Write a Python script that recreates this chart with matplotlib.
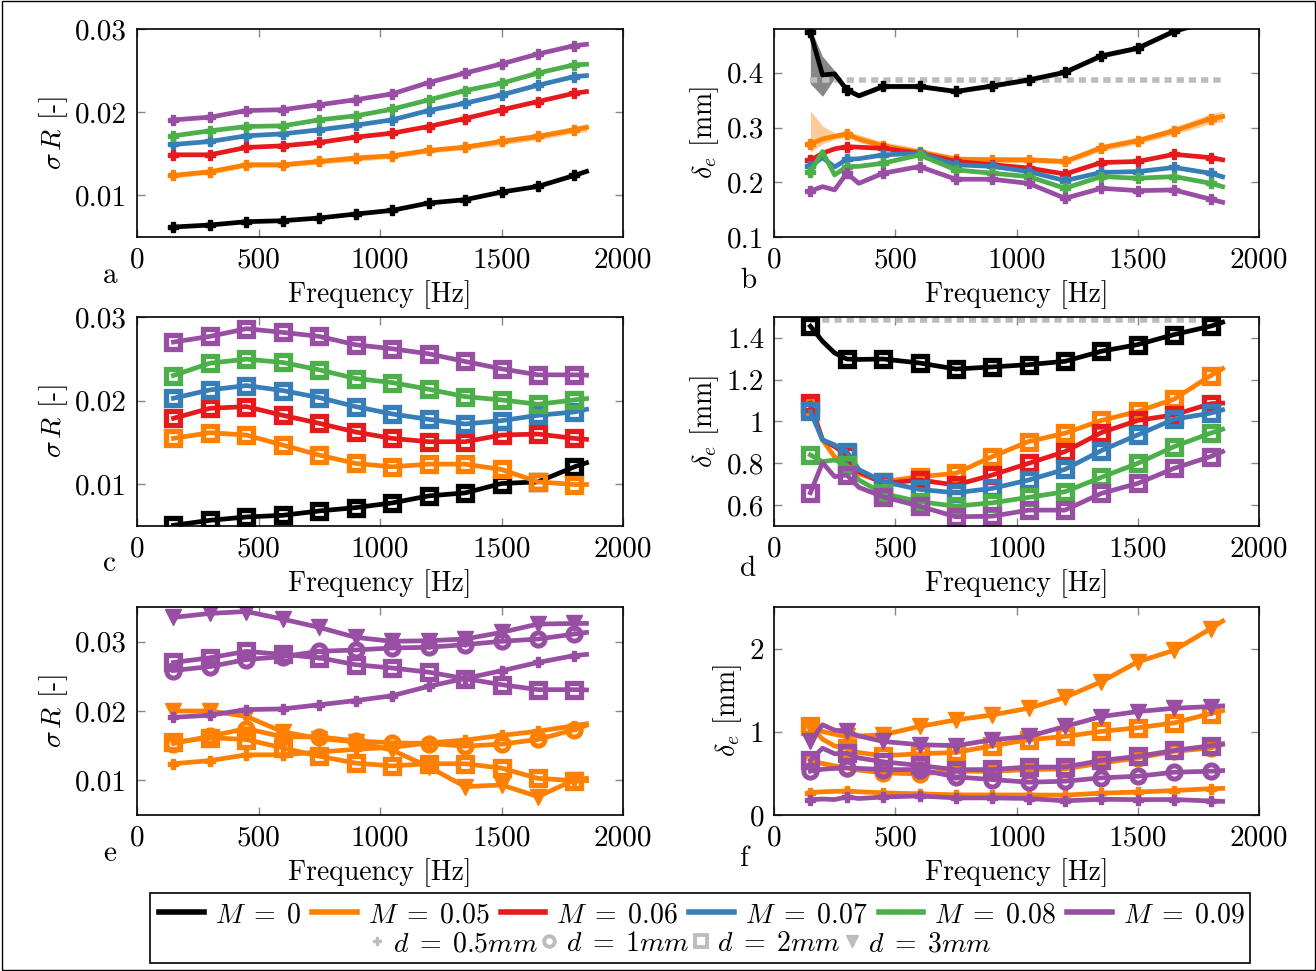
import matplotlib
matplotlib.use('Agg')
import matplotlib.pyplot as plt
from matplotlib.lines import Line2D
from matplotlib.patches import Rectangle

plt.rcParams['font.family'] = 'serif'
plt.rcParams['font.serif'] = ['cmr10']
plt.rcParams['mathtext.fontset'] = 'cm'
plt.rcParams['axes.formatter.use_mathtext'] = True

# ---------------- data ----------------
F_COARSE = [150, 300, 450, 600, 750, 900, 1050, 1200, 1350, 1500, 1650, 1800, 1850]
F_FINE = [150, 200, 250, 300, 350, 450, 600, 750, 900, 1050, 1200, 1350, 1500, 1650, 1800, 1850]
MARK_FREQS = [150, 300, 450, 600, 750, 900, 1050, 1200, 1350, 1500, 1650, 1800]

M_VALUES = ['0', '0.05', '0.06', '0.07', '0.08', '0.09']
D_VALUES = ['0.5', '1', '2', '3']

# panel a: sigma R, d = 0.5 mm (coarse grid)
A_M0 = [0.0062, 0.00644, 0.00684, 0.00696, 0.00728, 0.00776, 0.0082, 0.00908, 0.00948, 0.0104, 0.01108, 0.0124, 0.01288]
A_M005 = [0.0124, 0.01284, 0.01368, 0.01368, 0.01408, 0.01448, 0.01476, 0.0154, 0.0158, 0.01648, 0.01708, 0.01788, 0.01816]
A_M006 = [0.01488, 0.01488, 0.01576, 0.01596, 0.01636, 0.017, 0.01748, 0.01828, 0.01924, 0.02028, 0.02128, 0.02228, 0.02248]
A_M007 = [0.01612, 0.01648, 0.01716, 0.0174, 0.01788, 0.01844, 0.01908, 0.0202, 0.02108, 0.02208, 0.02324, 0.02428, 0.0244]
A_M008 = [0.01716, 0.01776, 0.01828, 0.01836, 0.01908, 0.01956, 0.02036, 0.02148, 0.0226, 0.02348, 0.0247, 0.0257, 0.02576]
A_M009 = [0.01908, 0.0194, 0.0202, 0.0203, 0.0209, 0.0215, 0.0222, 0.02356, 0.0247, 0.0258, 0.027, 0.028, 0.02816]
A_M005_ERR = [0.0003, 0.0003, 0.0003, 0.0003, 0.0003, 0.0004, 0.0003, 0.0003, 0.0003, 0.0004, 0.0004, 0.0004, 0.0005]

# panel b: delta_e, d = 0.5 mm (fine grid)
B_M0 = [0.474, 0.396, 0.398, 0.369, 0.358, 0.375, 0.375, 0.366, 0.376, 0.387, 0.401, 0.431, 0.445, 0.476, 0.495, 0.50]
B_M005 = [0.270, 0.279, 0.284, 0.288, 0.279, 0.2665, 0.255, 0.242, 0.241, 0.241, 0.238, 0.263, 0.276, 0.294, 0.316, 0.320]
B_M006 = [0.240, 0.253, 0.261, 0.265, 0.264, 0.262, 0.253, 0.238, 0.232, 0.226, 0.215, 0.236, 0.238, 0.251, 0.245, 0.241]
B_M007 = [0.229, 0.245, 0.228, 0.242, 0.243, 0.250, 0.253, 0.232, 0.229, 0.2195, 0.203, 0.218, 0.2195, 0.227, 0.2165, 0.210]
B_M008 = [0.2195, 0.256, 0.2134, 0.2287, 0.229, 0.2348, 0.25, 0.2226, 0.2165, 0.2104, 0.189, 0.2104, 0.2073, 0.2104, 0.1982, 0.192]
B_M009 = [0.184, 0.192, 0.186, 0.2165, 0.198, 0.2165, 0.2287, 0.2055, 0.2055, 0.198, 0.1707, 0.189, 0.1847, 0.186, 0.169, 0.1634]
B_M0_LO = [0.380, 0.357, 0.390, 0.364, 0.354, 0.371, 0.371, 0.362, 0.372, 0.383, 0.397, 0.427, 0.441, 0.472, 0.491, 0.496]
B_M0_HI = [0.482, 0.430, 0.404, 0.373, 0.362, 0.379, 0.379, 0.370, 0.380, 0.391, 0.405, 0.435, 0.449, 0.480, 0.499, 0.504]
B_M005_LO = [0.255, 0.270, 0.278, 0.282, 0.273, 0.260, 0.248, 0.236, 0.235, 0.236, 0.233, 0.257, 0.270, 0.287, 0.307, 0.310]
B_M005_HI = [0.331, 0.303, 0.290, 0.294, 0.287, 0.274, 0.262, 0.248, 0.247, 0.246, 0.243, 0.269, 0.282, 0.301, 0.325, 0.330]
B_REF = 0.386

# panel c: sigma R, d = 2 mm (coarse grid)
C_M0 = [0.00508, 0.00568, 0.00608, 0.00628, 0.0068, 0.0072, 0.00776, 0.0086, 0.00896, 0.01008, 0.01028, 0.01208, 0.01256]
C_M005 = [0.01548, 0.01616, 0.01588, 0.01468, 0.01348, 0.01248, 0.01208, 0.0124, 0.0124, 0.01176, 0.01028, 0.00996, 0.00996]
C_M006 = [0.01788, 0.01908, 0.01928, 0.01824, 0.01728, 0.01624, 0.01548, 0.01508, 0.01508, 0.01588, 0.016, 0.01548, 0.01536]
C_M007 = [0.02028, 0.02128, 0.0218, 0.0212, 0.02036, 0.01928, 0.0184, 0.01776, 0.0172, 0.0176, 0.01824, 0.01864, 0.01896]
C_M008 = [0.0230, 0.02448, 0.02496, 0.02456, 0.02368, 0.02264, 0.02216, 0.02136, 0.02048, 0.02008, 0.01956, 0.02008, 0.02024]
C_M009 = [0.0270, 0.02768, 0.0286, 0.02816, 0.02768, 0.02668, 0.0262, 0.0256, 0.02468, 0.0238, 0.02308, 0.02308, 0.02304]

# panel d: delta_e, d = 2 mm (fine grid)
D_M0 = [1.456, 1.384, 1.328, 1.299, 1.297, 1.299, 1.28, 1.251, 1.261, 1.272, 1.288, 1.336, 1.368, 1.416, 1.456, 1.475]
D_M005 = [1.069, 0.912, 0.83, 0.80, 0.75, 0.712, 0.736, 0.752, 0.832, 0.904, 0.944, 1.005, 1.048, 1.107, 1.219, 1.253]
D_M006 = [1.088, 0.912, 0.88, 0.84, 0.76, 0.704, 0.72, 0.696, 0.744, 0.80, 0.856, 0.947, 1.005, 1.032, 1.085, 1.088]
D_M007 = [1.048, 0.912, 0.888, 0.856, 0.77, 0.712, 0.675, 0.659, 0.68, 0.72, 0.771, 0.861, 0.936, 1.011, 1.04, 1.056]
D_M008 = [0.84, 0.808, 0.816, 0.792, 0.72, 0.656, 0.616, 0.595, 0.611, 0.637, 0.664, 0.733, 0.80, 0.88, 0.944, 0.963]
D_M009 = [0.659, 0.803, 0.736, 0.744, 0.685, 0.64, 0.595, 0.544, 0.547, 0.576, 0.576, 0.656, 0.704, 0.776, 0.832, 0.856]
D_REF = 1.488

# panel e: sigma R, M = 0.05 and 0.09, d = 1 mm and 3 mm (coarse grid)
E_M005_D1 = [0.01531, 0.01636, 0.01746, 0.01627, 0.01627, 0.01569, 0.01541, 0.01531, 0.01493, 0.01522, 0.01589, 0.01732, 0.01794]
E_M005_D3 = [0.0200, 0.0200, 0.01923, 0.01699, 0.01603, 0.01555, 0.01435, 0.01196, 0.00909, 0.00933, 0.00766, 0.01005, 0.01029]
E_M009_D1 = [0.02584, 0.02641, 0.02742, 0.02785, 0.02861, 0.0288, 0.02909, 0.02919, 0.02957, 0.03005, 0.03038, 0.0311, 0.03134]
E_M009_D3 = [0.0335, 0.03407, 0.03435, 0.03325, 0.03206, 0.03062, 0.03005, 0.03014, 0.03038, 0.03134, 0.03254, 0.03263, 0.03263]

# panel f: delta_e, M = 0.05 and 0.09, d = 1 mm and 3 mm (fine grid)
F_M005_D1 = [0.645, 0.62, 0.59, 0.566, 0.54, 0.506, 0.494, 0.526, 0.526, 0.546, 0.554, 0.625, 0.685, 0.765, 0.805, 0.845]
F_M005_D3 = [1.064, 1.004, 0.97, 0.944, 0.95, 0.964, 1.064, 1.143, 1.203, 1.283, 1.414, 1.602, 1.841, 1.98, 2.239, 2.331]
F_M009_D1 = [0.526, 0.55, 0.56, 0.566, 0.56, 0.546, 0.546, 0.458, 0.426, 0.394, 0.406, 0.446, 0.466, 0.514, 0.526, 0.534]
F_M009_D3 = [0.884, 1.084, 1.02, 1.004, 0.95, 0.884, 0.845, 0.833, 0.904, 0.944, 1.064, 1.183, 1.243, 1.283, 1.303, 1.311]

X_TICKS = [0, 500, 1000, 1500, 2000]
SIGMA_TICKS = [0.01, 0.02, 0.03]
SIGMA_LABELS = ['0.01', '0.02', '0.03']
B_TICKS = [0.1, 0.2, 0.3, 0.4]
B_LABELS = ['0.1', '0.2', '0.3', '0.4']
D_TICKS = [0.6, 0.8, 1.0, 1.2, 1.4]
D_LABELS = ['0.6', '0.8', '1', '1.2', '1.4']
F_TICKS = [0, 1, 2]
F_LABELS = ['0', '1', '2']

# ---------------- style ----------------
COLORS = ['black', '#ff7f00', '#e41a1c', '#377eb8', '#4daf4a', '#984ea3']
GRAY = '#bdbdbd'
LW = 3.4
FS = 20
TFS = 21
MARKER_STYLE = {
    '0.5': dict(marker='P', ms=7.5),
    '1': dict(marker='o', ms=9.5, mfc='none', mew=3.6),
    '2': dict(marker='s', ms=10, mfc='none', mew=3.8),
    '3': dict(marker='v', ms=11),
}


def mark_idx(freqs):
    return [i for i, f in enumerate(freqs) if f in MARK_FREQS]


def draw(ax, freqs, vals, color, d):
    st = dict(MARKER_STYLE[d])
    if 'mfc' not in st:
        st['mfc'] = color
    ax.plot(freqs, vals, color=color, lw=LW, mec=color,
            markevery=mark_idx(freqs), solid_joinstyle='round', **st)


fig = plt.figure(figsize=(13.16, 9.71), dpi=100)
W, H = 1316.0, 971.0


def make_ax(x0, x1, y0, y1):
    return fig.add_axes([x0 / W, 1 - y1 / H, (x1 - x0) / W, (y1 - y0) / H])


cols = [(137, 623), (774, 1259)]
rows = [(29, 237), (317, 526), (607, 815)]
axs = [[make_ax(c[0], c[1], r[0], r[1]) for c in cols] for r in rows]

# panel a
ax = axs[0][0]
ax.fill_between(F_COARSE, [v - e for v, e in zip(A_M005, A_M005_ERR)],
                [v + e for v, e in zip(A_M005, A_M005_ERR)], color=COLORS[1], alpha=0.4, lw=0)
for vals, c in zip([A_M0, A_M005, A_M006, A_M007, A_M008, A_M009], COLORS):
    draw(ax, F_COARSE, vals, c, '0.5')
ax.set_ylim(0.005, 0.03)
ax.set_yticks(SIGMA_TICKS, SIGMA_LABELS)
ax.set_ylabel(r'$\sigma\,R$ [-]')

# panel b
ax = axs[0][1]
ax.plot([F_FINE[0], F_FINE[-1]], [B_REF, B_REF], color=GRAY, lw=4, dashes=(1.3, 0.9))
ax.fill_between(F_FINE, B_M0_LO, B_M0_HI, color='#555555', alpha=0.7, lw=0)
ax.fill_between(F_FINE, B_M005_LO, B_M005_HI, color=COLORS[1], alpha=0.4, lw=0)
for vals, c in zip([B_M0, B_M005, B_M006, B_M007, B_M008, B_M009], COLORS):
    draw(ax, F_FINE, vals, c, '0.5')
ax.set_ylim(0.1, 0.48)
ax.set_yticks(B_TICKS, B_LABELS)
ax.set_ylabel(r'$\delta_e$ [mm]')

# panel c
ax = axs[1][0]
for vals, c in zip([C_M0, C_M005, C_M006, C_M007, C_M008, C_M009], COLORS):
    draw(ax, F_COARSE, vals, c, '2')
ax.set_ylim(0.005, 0.03)
ax.set_yticks(SIGMA_TICKS, SIGMA_LABELS)
ax.set_ylabel(r'$\sigma\,R$ [-]')

# panel d
ax = axs[1][1]
ax.plot([F_FINE[0], F_FINE[-1]], [D_REF, D_REF], color=GRAY, lw=4, dashes=(1.3, 0.9))
for vals, c in zip([D_M0, D_M005, D_M006, D_M007, D_M008, D_M009], COLORS):
    draw(ax, F_FINE, vals, c, '2')
ax.set_ylim(0.5, 1.5)
ax.set_yticks(D_TICKS, D_LABELS)
ax.set_ylabel(r'$\delta_e$ [mm]')

# panel e
ax = axs[2][0]
e_series = [(A_M005, '0.5'), (E_M005_D1, '1'), (C_M005, '2'), (E_M005_D3, '3')]
for vals, d in e_series:
    draw(ax, F_COARSE, vals, COLORS[1], d)
e_series = [(A_M009, '0.5'), (E_M009_D1, '1'), (C_M009, '2'), (E_M009_D3, '3')]
for vals, d in e_series:
    draw(ax, F_COARSE, vals, COLORS[5], d)
ax.set_ylim(0.005, 0.035)
ax.set_yticks(SIGMA_TICKS, SIGMA_LABELS)
ax.set_ylabel(r'$\sigma\,R$ [-]')

# panel f
ax = axs[2][1]
f_series = [(B_M005, '0.5'), (F_M005_D1, '1'), (D_M005, '2'), (F_M005_D3, '3')]
for vals, d in f_series:
    draw(ax, F_FINE, vals, COLORS[1], d)
f_series = [(B_M009, '0.5'), (F_M009_D1, '1'), (D_M009, '2'), (F_M009_D3, '3')]
for vals, d in f_series:
    draw(ax, F_FINE, vals, COLORS[5], d)
ax.set_ylim(0, 2.5)
ax.set_yticks(F_TICKS, F_LABELS)
ax.set_ylabel(r'$\delta_e$ [mm]')

for row in axs:
    for ax in row:
        ax.set_xlim(0, 2000)
        ax.set_xticks(X_TICKS, [str(t) for t in X_TICKS])
        ax.set_xlabel('Frequency [Hz]', fontsize=FS, labelpad=5)
        ax.yaxis.label.set_size(FS)
        ax.tick_params(direction='in', length=6, width=1, color='#888888',
                       labelsize=TFS, top=True, right=True, pad=7)
        for sp in ax.spines.values():
            sp.set_linewidth(1.2)

# panel letters
for (lab, x, y) in [('a', 103, 283), ('b', 740, 288), ('c', 103, 571),
                    ('d', 740, 576), ('e', 103, 861), ('f', 740, 866)]:
    fig.text(x / W, 1 - y / H, lab, fontsize=TFS, va='baseline', ha='left')

# legend
h1 = [Line2D([], [], color=c, lw=4) for c in COLORS]
l1 = [r'$M\;=\;%s$' % m for m in M_VALUES]
fig.legend(h1, l1, loc='center', bbox_to_anchor=(702 / W, 1 - 915 / H), ncol=6,
           frameon=False, fontsize=FS, handlelength=1.6, handletextpad=0.4,
           columnspacing=0.4, borderpad=0, borderaxespad=0)
h2 = []
for d in D_VALUES:
    st = dict(MARKER_STYLE[d])
    st['ms'] = st['ms'] * 0.8
    if 'mew' in st:
        st['mew'] = 2.8
    if 'mfc' not in st:
        st['mfc'] = GRAY
    h2.append(Line2D([], [], ls='none', color=GRAY, mec=GRAY, **st))
l2 = [r'$d\;=\;%smm$' % d for d in D_VALUES]
fig.legend(h2, l2, loc='center', bbox_to_anchor=(680 / W, 1 - 944 / H), ncol=4,
           frameon=False, fontsize=FS, handlelength=0.6, handletextpad=0.3,
           columnspacing=0.1, borderpad=0, borderaxespad=0)
fig.patches.append(Rectangle((150 / W, 1 - 963 / H), 1100 / W, 70 / H,
                             transform=fig.transFigure, fill=False, ec='black', lw=1.2))
fig.patches.append(Rectangle((1.5 / W, 1.5 / H), 1 - 3 / W, 1 - 3 / H,
                             transform=fig.transFigure, fill=False, ec='black', lw=1.0))

fig.savefig('out.png', dpi=100)
